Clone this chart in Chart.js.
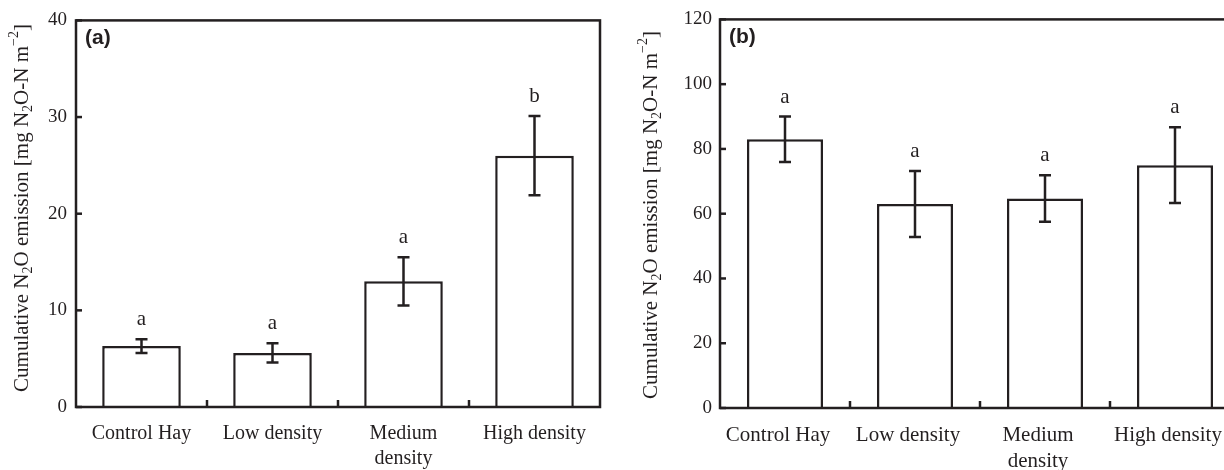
<!DOCTYPE html>
<html>
<head>
<meta charset="utf-8">
<script src="https://cdn.jsdelivr.net/npm/chart.js@4.4.0/dist/chart.umd.min.js"></script>
<style>
  html, body { margin:0; padding:0; background:#fff; overflow:hidden; }
  body { width:1224px; height:470px; position:relative; }
  .panel { position:absolute; top:0; height:470px; }
  #panelA { left:0; width:612px; }
  #panelB { left:612px; width:660px; }
</style>
</head>
<body>
<div class="panel" id="panelA"><canvas id="chartA" width="612" height="470"></canvas></div>
<div class="panel" id="panelB"><canvas id="chartB" width="660" height="470"></canvas></div>
<script>
// ===== Data =====
const categories = ['Control Hay', 'Low density', ['Medium', 'density'], 'High density'];

const aValues  = [6.3, 5.6, 13.0, 26.0];
const aErrors  = [0.7, 1.0, 2.5, 4.1];
const aLetters = ['a', 'a', 'a', 'b'];
const aTicks   = [0, 10, 20, 30, 40];

const bValues  = [83.0, 63.0, 64.7, 75.0];
const bErrors  = [7.0, 10.2, 7.2, 11.7];
const bLetters = ['a', 'a', 'a', 'a'];
const bTicks   = [0, 20, 40, 60, 80, 100, 120];

// y title pieces: 0 = normal, 1 = subscript, 2 = superscript
const yTitle = [
  ['Cumulative N', 0], ['2', 1], ['O emission [mg N', 0], ['2', 1],
  ['O-N m', 0], ['\u22122', 2], [']', 0]
];

// ===== Style =====
const INK = '#231f20';
const SERIF = '"Liberation Serif", "Times New Roman", serif';
const SANS = '"Liberation Sans", Arial, sans-serif';
const LW = 2.5;

function drawTitle(ctx, cx, cy, size) {
  const small = Math.round(size * 0.68);
  ctx.save();
  ctx.translate(cx, cy);
  ctx.rotate(-Math.PI / 2);
  ctx.fillStyle = INK;
  ctx.textBaseline = 'middle';
  ctx.textAlign = 'left';
  let total = 0;
  const parts = yTitle.map(([t, k]) => {
    ctx.font = `${k ? small : size}px ${SERIF}`;
    const w = ctx.measureText(t).width;
    total += w;
    return { t, k, w };
  });
  let x = -total / 2;
  parts.forEach(p => {
    ctx.font = `${p.k ? small : size}px ${SERIF}`;
    const dy = p.k === 1 ? size * 0.28 : p.k === 2 ? -size * 0.38 : 0;
    ctx.fillText(p.t, x, dy);
    x += p.w;
  });
  ctx.restore();
}

function decor(cfg) {
  return {
    id: 'decor' + cfg.panel,
    afterDatasetsDraw(chart) {
      const ctx = chart.ctx;
      const a = chart.chartArea;
      const xs = chart.scales.x, ys = chart.scales.y;
      const bars = chart.getDatasetMeta(0).data;

      ctx.save();
      ctx.strokeStyle = INK;
      ctx.fillStyle = INK;
      ctx.lineWidth = LW;
      ctx.lineCap = 'butt';

      // error bars
      bars.forEach((bar, i) => {
        const v = cfg.values[i], e = cfg.errors[i];
        const yT = ys.getPixelForValue(v + e), yB = ys.getPixelForValue(v - e);
        ctx.beginPath();
        ctx.moveTo(bar.x, yT); ctx.lineTo(bar.x, yB);
        ctx.moveTo(bar.x - 6, yT); ctx.lineTo(bar.x + 6, yT);
        ctx.moveTo(bar.x - 6, yB); ctx.lineTo(bar.x + 6, yB);
        ctx.stroke();
        // significance letters
        ctx.font = `21px ${SERIF}`;
        ctx.textAlign = 'center';
        ctx.textBaseline = 'alphabetic';
        ctx.fillText(cfg.letters[i], bar.x, yT - 14);
      });

      // frame
      ctx.strokeRect(a.left, a.top, a.right - a.left, a.bottom - a.top);

      // y tick marks (inside)
      cfg.ticks.forEach(v => {
        const y = ys.getPixelForValue(v);
        ctx.beginPath();
        ctx.moveTo(a.left, y); ctx.lineTo(a.left + 6, y);
        ctx.stroke();
      });

      // x tick marks between categories (inside)
      for (let i = 0; i < cfg.values.length - 1; i++) {
        const x = (xs.getPixelForValue(i) + xs.getPixelForValue(i + 1)) / 2;
        ctx.beginPath();
        ctx.moveTo(x, a.bottom); ctx.lineTo(x, a.bottom - 7);
        ctx.stroke();
      }

      // panel label
      ctx.font = `bold 21px ${SANS}`;
      ctx.textAlign = 'left';
      ctx.textBaseline = 'middle';
      ctx.fillText('(' + cfg.panel + ')', a.left + 9, a.top + 18);
      ctx.restore();

      drawTitle(ctx, cfg.titleX, cfg.titleY, cfg.titleSize);
    }
  };
}

function makeChart(id, cfg) {
  return new Chart(document.getElementById(id), {
    type: 'bar',
    data: {
      labels: categories,
      datasets: [{
        data: cfg.values,
        backgroundColor: '#ffffff',
        borderColor: INK,
        borderWidth: LW,
        barPercentage: cfg.barPct,
        categoryPercentage: 1
      }]
    },
    options: {
      responsive: false,
      animation: false,
      devicePixelRatio: 1,
      layout: { padding: { left: 0, top: 18, right: cfg.padRight, bottom: 0 } },
      plugins: { legend: { display: false }, tooltip: { enabled: false } },
      scales: {
        x: {
          grid: { display: false, drawTicks: false },
          border: { display: false },
          ticks: {
            color: INK, padding: 14, maxRotation: 0, autoSkip: false,
            labelOffset: cfg.labelShift,
            font: { family: SERIF, size: cfg.catSize, lineHeight: 1.25 }
          },
          afterFit: s => { s.height = cfg.xHeight; }
        },
        y: {
          min: cfg.ticks[0], max: cfg.ticks[cfg.ticks.length - 1],
          grid: { display: false, drawTicks: false },
          border: { display: false },
          ticks: {
            color: INK, padding: cfg.tickPad,
            font: { family: SERIF, size: cfg.tickSize }
          },
          afterBuildTicks: s => { s.ticks = cfg.ticks.map(v => ({ value: v })); },
          afterFit: s => { s.width = cfg.yWidth; }
        }
      }
    },
    plugins: [decor(cfg)]
  });
}

makeChart('chartA', {
  panel: 'a', values: aValues, errors: aErrors, letters: aLetters, ticks: aTicks,
  barPct: 0.6, padRight: 12, xHeight: 63, yWidth: 76, tickPad: 9, labelShift: 0,
  tickSize: 19, catSize: 20, titleX: 22, titleY: 208, titleSize: 21
});

makeChart('chartB', {
  panel: 'b', values: bValues, errors: bErrors, letters: bLetters, ticks: bTicks,
  barPct: 0.585, padRight: 32, xHeight: 62, yWidth: 108, tickPad: 8, labelShift: -7,
  tickSize: 19, catSize: 21, titleX: 39, titleY: 215, titleSize: 21
});
</script>
</body>
</html>
